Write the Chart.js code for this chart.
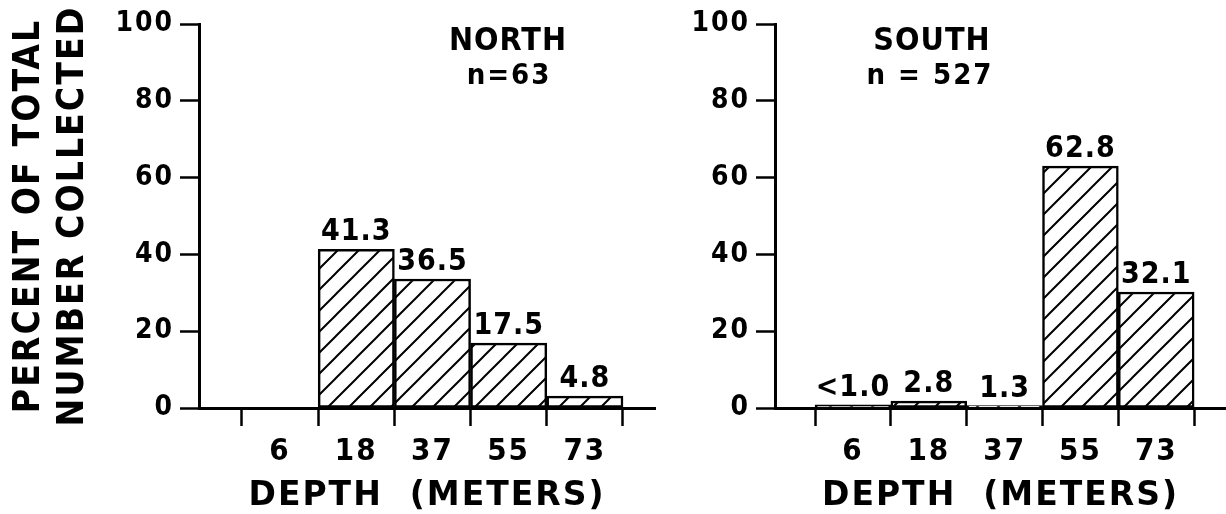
<!DOCTYPE html>
<html>
<head>
<meta charset="utf-8">
<title>Depth distribution, north and south</title>
<style>
body { margin: 0; background: #fff; }
#wrap { position: relative; width: 1226px; height: 514px; overflow: hidden; background: #fff; }
canvas { position: absolute; top: 0; }
#north { left: 0; }
#south { left: 670px; }
.site { position: absolute; width: 200px; text-align: center; font-family: "DejaVu Sans Condensed", "DejaVu Sans"; font-weight: bold; color: #000; white-space: pre; }
.name { font-size: 32px; line-height: 34px; top: 22px; letter-spacing: 1px; }
.count { font-size: 29px; line-height: 34px; top: 57px; letter-spacing: 2px; }
</style>
<script src="https://cdn.jsdelivr.net/npm/chart.js@4/dist/chart.umd.min.js"></script>
</head>
<body>
<div id="wrap">
	<canvas id="north" width="670" height="514"></canvas>
	<canvas id="south" width="556" height="514"></canvas>
	<div class="site name" style="left:408px">NORTH</div>
	<div class="site count" style="left:409px">n=63</div>
	<div class="site name" style="left:832px">SOUTH</div>
	<div class="site count" style="left:830px">n = 527</div>
</div>
<script>
// depth classes (m); each label sits in the middle of its bin
var depthLabels = ['6', '18', '37', '55', '73'];
var binCentres = [0.5, 1.5, 2.5, 3.5, 4.5];
var binEdges = [0, 1, 2, 3, 4, 5];
var yTicks = [0, 20, 40, 60, 80, 100];

// percent printed above each bar
var northPrinted = ['', '41.3', '36.5', '17.5', '4.8'];
var southPrinted = ['<1.0', '2.8', '1.3', '62.8', '32.1'];

// bar heights as they are drawn in the figure (percent)
var northHeights = [0, 41.3, 33.6, 16.9, 3.1];
var southHeights = [0.8, 1.8, 0.6, 63.0, 30.2];

var FONT = 'DejaVu Sans Condensed';

// hand lettering is a bit spaced out
var spacing = {
	id: 'spacing',
	beforeUpdate: function(chart) { chart.ctx.letterSpacing = '2px'; },
	beforeDraw: function(chart) { chart.ctx.letterSpacing = '2px'; }
};

// numbers above the bars
var barText = {
	id: 'barText',
	afterDatasetsDraw: function(chart, args, opts) {
		var ctx = chart.ctx;
		var meta = chart.getDatasetMeta(0);
		ctx.save();
		ctx.font = 'bold 30px "' + FONT + '"';
		ctx.letterSpacing = '1px';
		ctx.fillStyle = '#000';
		ctx.textAlign = 'center';
		ctx.textBaseline = 'alphabetic';
		meta.data.forEach(function(bar, i) {
			var t = opts.labels[i];
			if (t) ctx.fillText(t, bar.x, bar.y - 9);
		});
		ctx.restore();
	}
};

function hatchTile() {
	var c = document.createElement('canvas');
	c.width = 21; c.height = 21;
	var g = c.getContext('2d');
	g.fillStyle = '#fff';
	g.fillRect(0, 0, 21, 21);
	g.strokeStyle = '#000';
	g.lineWidth = 2;
	g.beginPath();
	g.moveTo(-2, 23); g.lineTo(23, -2);
	g.moveTo(-2, 2); g.lineTo(2, -2);
	g.moveTo(19, 23); g.lineTo(23, 19);
	g.stroke();
	return c;
}

function makeChart(id, heights, printed, o) {
	var ctx = document.getElementById(id).getContext('2d');
	var points = binCentres.map(function(x, i) { return {x: x, y: heights[i]}; });
	var yScale = {
		min: 0, max: 100,
		afterBuildTicks: function(s) { s.ticks = yTicks.map(function(v) { return {value: v}; }); },
		afterFit: function(s) { s.width = o.yWidth; },
		ticks: {padding: 6, color: '#000', font: {family: FONT, weight: 'bold', size: 28}},
		grid: {drawOnChartArea: false, tickLength: 19, tickWidth: 2.5, tickColor: '#000'},
		border: {color: '#000', width: 3}
	};
	if (o.yTitle) {
		yScale.title = {
			display: true, text: o.yTitle, color: '#000',
			font: {family: FONT, weight: 'bold', size: 37, lineHeight: 1.18},
			padding: {top: 8, bottom: 0}
		};
	}
	return new Chart(ctx, {
		type: 'bar',
		data: {
			datasets: [{
				data: points,
				backgroundColor: ctx.createPattern(hatchTile(), 'repeat'),
				borderColor: '#000',
				borderWidth: 2.5,
				borderSkipped: false,
				barPercentage: 1,
				categoryPercentage: 1
			}]
		},
		options: {
			responsive: false,
			animation: false,
			devicePixelRatio: 1,
			layout: {padding: {top: 24, right: o.padRight, left: 0, bottom: 0}},
			plugins: {
				legend: {display: false},
				tooltip: {enabled: false},
				barText: {labels: printed}
			},
			scales: {
				x: {
					type: 'linear', min: o.xMin, max: o.xMax, offset: false,
					afterBuildTicks: function(s) { s.ticks = binEdges.map(function(v) { return {value: v}; }); },
					afterFit: function(s) { s.height = 106; },
					ticks: {
						callback: function(v) { return depthLabels[v] || ''; },
						labelOffset: o.halfBin, autoSkip: false, maxRotation: 0, padding: 7,
						color: '#000', font: {family: FONT, weight: 'bold', size: 31}
					},
					grid: {offset: false, drawOnChartArea: false, tickLength: 18, tickWidth: 2.5, tickColor: '#000'},
					border: {color: '#000', width: 3},
					title: {
						display: true, text: 'DEPTH  (METERS)', color: '#000',
						font: {family: 'DejaVu Sans', weight: 'bold', size: 33, lineHeight: 1},
						padding: {top: 0, bottom: 1}
					}
				},
				y: yScale
			}
		},
		plugins: [spacing, barText]
	});
}

var northChart = makeChart('north', northHeights, northPrinted, {
	yWidth: 199, padRight: 15, xMin: -0.564, xMax: 5.42, halfBin: 38,
	yTitle: ['PERCENT OF TOTAL', 'NUMBER COLLECTED']
});
var southChart = makeChart('south', southHeights, southPrinted, {
	yWidth: 105, padRight: 0, xMin: -0.528, xMax: 5.42, halfBin: 38
});
</script>
</body>
</html>
